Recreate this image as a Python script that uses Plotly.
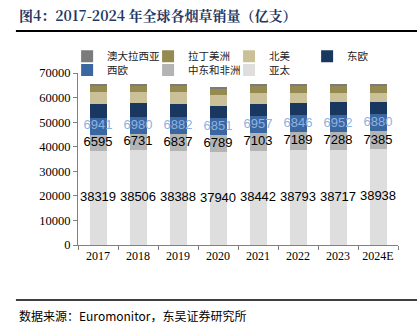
import plotly.graph_objects as go

years = ["2017", "2018", "2019", "2020", "2021", "2022", "2023", "2024E"]
asia_pacific = [38319, 38506, 38388, 37940, 38442, 38793, 38717, 38938]
mideast_africa = [6595, 6731, 6837, 6789, 7103, 7189, 7288, 7385]
west_europe = [6941, 6980, 6882, 6851, 6957, 6846, 6952, 6880]
east_europe = [5700, 5450, 5440, 5030, 5050, 5130, 5280, 5040]
north_america = [4600, 4650, 4630, 4350, 4350, 4100, 3700, 3500]
latin_america = [2700, 2600, 2600, 2900, 2950, 2860, 2900, 3100]
australasia = [800, 800, 800, 550, 700, 700, 700, 700]

series = [
    ("亚太", asia_pacific, "#dedede"),
    ("中东和非洲", mideast_africa, "#b4b4b4"),
    ("西欧", west_europe, "#3b67a1"),
    ("东欧", east_europe, "#1a3760"),
    ("北美", north_america, "#cbc198"),
    ("拉丁美洲", latin_america, "#958a50"),
    ("澳大拉西亚", australasia, "#7b7b7b"),
]

# legend slot for each series: (x paper, y paper)
col_x = [-0.034, 0.219, 0.472, 0.716]
row_y = [1.098, 1.017]
legend_slots = {
    "澳大拉西亚": (col_x[0], row_y[0]),
    "拉丁美洲": (col_x[1], row_y[0]),
    "北美": (col_x[2], row_y[0]),
    "东欧": (col_x[3], row_y[0]),
    "西欧": (col_x[0], row_y[1]),
    "中东和非洲": (col_x[1], row_y[1]),
    "亚太": (col_x[2], row_y[1]),
}

fig = go.Figure()
legend_layout = {}
for i, (name, vals, col) in enumerate(series):
    lid = "legend" if i == 0 else f"legend{i + 1}"
    fig.add_trace(go.Bar(x=years, y=vals, name=name, legend=lid,
                         marker=dict(color=col, line=dict(width=0))))
    lx, ly = legend_slots[name]
    legend_layout[lid] = dict(
        orientation="h", x=lx, xanchor="left", y=ly, yanchor="middle",
        font=dict(family="Noto Sans CJK SC", size=10.5, color="#222222"),
        bgcolor="rgba(0,0,0,0)", itemwidth=30,
    )

# value labels for the three lower segments
label_specs = [(0, "#000000"), (1, "#000000"), (2, "#8db3e2")]
for idx, color in label_specs:
    base = [0] * len(years)
    for j in range(idx):
        base = [b + v for b, v in zip(base, series[j][1])]
    vals = series[idx][1]
    mids = [b + v / 2 for b, v in zip(base, vals)]
    fig.add_trace(go.Scatter(
        x=years, y=mids, mode="text", text=[str(v) for v in vals],
        textfont=dict(family="Liberation Sans, Arial", size=13, color=color),
        showlegend=False, hoverinfo="skip", cliponaxis=False,
    ))

serif = "Liberation Serif, Times New Roman"
fig.update_layout(
    width=417, height=332,
    margin=dict(l=78, r=19, t=73, b=87),
    barmode="stack", bargap=0.575,
    plot_bgcolor="white", paper_bgcolor="white",
    showlegend=True,
    xaxis=dict(
        showline=True, linecolor="#808080", linewidth=1,
        ticks="outside", tickson="boundaries", ticklen=4, tickcolor="#808080",
        tickfont=dict(family=serif, size=12, color="#000000"), tickangle=0,
        showgrid=False,
    ),
    yaxis=dict(
        range=[0, 70000], dtick=10000, tickformat="d", showline=True, linecolor="#808080", linewidth=1,
        ticks="outside", ticklen=4, tickcolor="#808080",
        tickfont=dict(family=serif, size=12.5, color="#000000"),
        showgrid=False, zeroline=False,
    ),
    font=dict(family=serif),
    **legend_layout,
)

fig.add_annotation(
    text="<b>图4：2017-2024 年全球各烟草销量（亿支）</b>",
    xref="paper", yref="paper", x=-0.19, y=1.337, xanchor="left", yanchor="middle",
    showarrow=False,
    font=dict(family="Noto Serif CJK SC, Noto Sans CJK SC", size=14, color="#1f3864"),
)
fig.add_shape(type="line", xref="paper", yref="paper", x0=-0.194, x1=1.06, y0=1.244, y1=1.244,
              line=dict(color="#000000", width=2))
fig.add_shape(type="line", xref="paper", yref="paper", x0=-0.194, x1=1.06, y0=-0.32, y1=-0.32,
              line=dict(color="#000000", width=1.5))
fig.add_annotation(
    text="数据来源：Euromonitor，东吴证券研究所",
    xref="paper", yref="paper", x=-0.19, y=-0.407, xanchor="left", yanchor="middle",
    showarrow=False,
    font=dict(family="Noto Sans CJK SC", size=12, color="#000000"),
)

fig.write_html("out.html")
